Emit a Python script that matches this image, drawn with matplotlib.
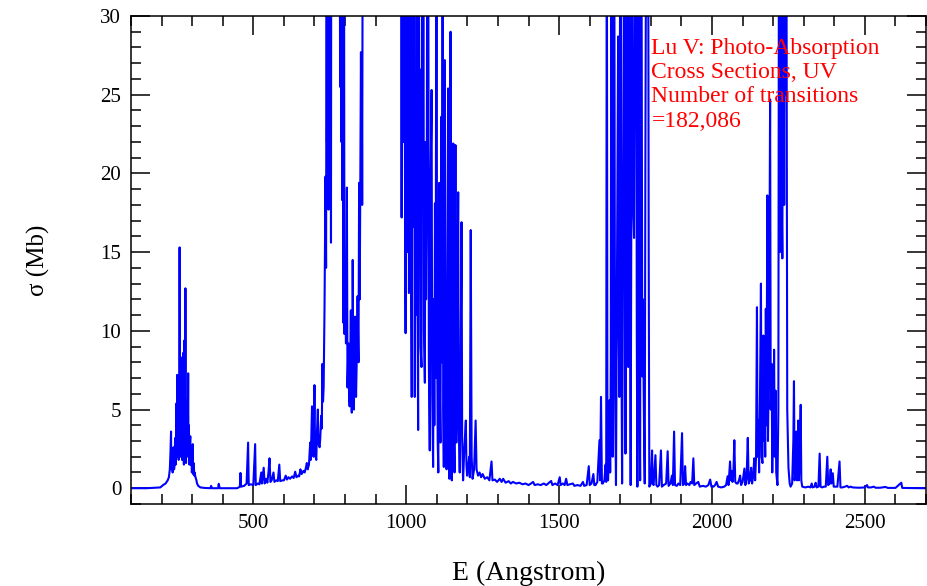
import matplotlib
matplotlib.use("Agg")
import matplotlib.pyplot as plt
from matplotlib.ticker import MultipleLocator

# ---- data (E in Angstrom, sigma in Mb; >30 is off-scale) ----
band_a = [(100,0),(150,0),(196,0.05),(205,0.2),(213,0.3),(220,0.5),(224,0.7),(227,1.2),(229,2.2),
          (231,3.6),(232,1.2),(233,1.5),(234,2.4),(235,2.0),(236,1.0),(238,1.2),(239,2.6),(240,2.2),
          (241,1.2),(243,1.8),(244,3.0),(245,3.2),(246,1.5),(247,2.5),(248,4.5),(249,5.4),(250,2.0),
          (251,7.2),(252,3.0),(253,2.0),(254,5.4),(255,2.5),(256,1.8),(257,6.5),(258,2.2),(259,15.3),
          (260,4.0),(261,2.0),(262,3.7),(263,7.5),(264,6.5),(265,8.3),(266,3.0),(267,1.8),(268,6.0),
          (269,3.0),(270,2.0),(271,8.6),(272,2.5),(273,1.5),(274,6.0),(275,9.4),(276,4.0),(277,3.0),
          (278,12.7),(279,2.5),(280,1.6),(281,5.0),(282,4.5),(283,2.0),(284,5.6),(285,2.2),(286,4.0),
          (287,7.3),(288,2.5),(289,4.0),(290,3.2),(291,1.5),(292,1.8),(293,3.0),(294,3.3),(295,1.5),
          (296,1.5),(297,2.6),(298,2.0),(299,1.0),(300,1.2),(302,2.8),(303,0.9),(304,1.2),(305,1.6),
          (307,0.8),(308,1.0),(311,0.7),(314,0.5),(316,0.3),(320,0.15),(327,0.05),(340,0.02),(360,0.0),
          (362,0.15),(365,0.0),(385,0.0),(387,0.28),(390,0.0),(420,0.0),(447,0.0)]

band_b = [(452,0.05),(456,0.1),(458,0.97),(460,0.1),(470,0.15),(478,0.3),(483,2.9),(485,0.2),
          (492,0.25),(500,0.2),(506,2.8),(508,0.2),(515,0.3),(520,0.25),(526,1.0),(528,0.3),(534,1.3),
          (537,0.3),(542,0.6),(546,0.35),(550,1.1),(553,1.9),(556,0.4),(560,0.5),(566,1.0),(569,0.4),
          (575,0.5),(580,0.45),(585,1.5),(588,0.45),(595,0.5),(600,0.5),(606,0.8),(610,0.55),(615,0.7),
          (620,0.6),(627,0.75),(632,0.65),(637,1.05),(641,0.7),(647,0.8),(650,0.75),(654,1.2),(658,0.9),
          (664,1.1),(668,1.0),(672,1.3),(675,1.6),(678,1.2),(682,1.5),(686,2.9),(688,1.8),(692,5.2),
          (694,2.6),(697,2.0),(700,6.55),(702,2.2),(706,1.8),(708,3.5),(711,5.0),(713,2.8),(717,2.6),
          (719,3.2),(722,4.6),(724,3.8),(726,7.9),(728,5.5),(730,6.4),(733,11.7),(736,19.8),(738,14.0),
          (740,40),(741,22),(742,40),(744,25),(745,40),(746,17.7),(747,40),(748,35),(749,40),(750,22),
          (751,40),(752,28),(753,40),(754,15.6),(755,40),(757,40),(782,40),
          (784,25.5),(785,40),(787,40),(788,22),(789,30),(790,40),(791,18.3),(792,40),(793,40),
          (795,10.5),(796,40),(797,30),(798,9.8),(800,14),
          (803,9.2),(806,19.1),(808,6.4),(811,9.2),(813,6.0),(815,5.2),(817,8.0),(819,11.3),(821,5.5),
          (822,4.8),(824,7.0),(825,14.5),(827,6.0),(829,5.0),(831,8.5),(833,10.9),(835,7.0),(836,5.8),
          (839,9.0),(841,12.2),(843,9.0),(844,8.0),(846,19.4),(848,12.0),(849,15.6),(851,22),(852,27.7),
          (854,20),(855,25.3),(856,18),(858,40),(980,40)]

band_c = [(983,40),(985,17.2),(987,40),(989,30),(991,22),(993,40),(996,20),(998,9.85),(1000,40),
          (1003,28.3),(1005,15),(1007,40),(1009,12.4),(1011,26),(1014,40),(1016,14),(1018,5.8),
          (1020,40),(1023,16.6),(1025,40),(1028,5.8),(1030,20),(1032,11),(1034,40),(1037,12),(1039,3.7),
          (1041,40),(1043,15),(1045,26.6),(1047,9),(1050,7.7),(1052,40),(1054,18),(1056,40),(1058,10),
          (1061,6.7),(1063,22),(1065,12),(1067,17),(1069,40),(1072,40),(1074,8),(1077,2.4),(1080,20),
          (1083,25.3),(1085,6),(1088,1.35),(1090,12),(1092,4),(1094,18.1),(1096,7),(1099,40),(1101,10),
          (1103,3),(1105,1.0),(1108,19.4),(1110,6),(1112,2.9),(1115,23.6),(1117,8),(1119,40),(1121,5),
          (1123,1.35),(1126,27.2),(1129,6),(1132,1.2),(1135,14),(1137,25.4),(1139,4),(1141,0.6),
          (1145,29.0),(1147,5),(1149,0.5),(1151,12),(1154,21.9),(1156,4),(1158,1.0),(1161,21.8),
          (1163,6),(1164,2.9),(1167,10),(1170,18.8),(1172,4),(1175,1.0),(1178,8),(1181,16.9),(1183,3),
          (1186,0.5),(1190,2.5),(1195,4.3),(1197,1.5),(1199,0.8),(1203,1.5),(1206,2.0),(1208,0.7),
          (1211,16.4),(1214,2),(1217,0.6),(1222,1.2),(1227,4.3),(1230,1.2),(1235,0.8),(1240,1.0),
          (1245,0.7),(1250,0.9),(1257,0.6),(1265,0.7),(1272,0.5),(1279,1.7),(1282,0.5),(1290,0.55),
          (1297,0.4),(1306,0.6),(1312,0.4),(1317,0.6),(1325,0.35),(1335,0.45),(1342,0.3),(1349,0.4),
          (1360,0.3),(1370,0.35),(1380,0.25),(1390,0.3),(1400,0.2),(1408,0.3),(1415,0.4),(1420,0.2),
          (1430,0.25),(1440,0.2),(1450,0.3),(1458,0.2),(1467,0.35),(1474,0.46),(1478,0.2),(1487,0.3),
          (1495,0.2),(1502,0.7),(1505,0.2),(1512,0.3),(1518,0.2),(1523,0.6),(1527,0.2),(1535,0.25),
          (1545,0.3),(1550,0.15),(1560,0.2),(1570,0.15),(1578,0.4),(1582,0.15),(1590,0.2),(1597,1.4),
          (1600,0.2),(1606,0.3),(1612,0.9),(1615,0.2),(1619,0.2),(1625,0.4),(1632,3.05),(1634,0.5),
          (1637,5.8),(1640,0.3),(1643,0.3),(1648,0.5),(1652,1.5)]

band_d = [(1654,0.4),(1656,40),(1658,3),(1660,0.5),(1663,2),(1665,5.6),(1667,1),(1669,8),(1671,40),
          (1673,10),(1675,2.0),(1678,20),(1680,40),(1683,6),(1686,0.2),(1689,12),(1693,28.7),(1695,10),
          (1697,5.8),(1700,40),(1703,40),(1704,8),(1706,0.3),(1708,9),(1710,17.4),(1712,25),(1714,40),
          (1716,12),(1717,2.2),(1719,30),(1721,40),(1723,20),(1726,7.7),(1728,35),(1730,40),(1732,12),
          (1734,0.2),(1737,25),(1739,40),(1741,22),(1743,17.3),(1745,15.9),(1747,28),(1750,40),
          (1752,40),(1754,10),(1756,0.1),(1758,40),(1760,40),(1762,8),(1765,0.5),(1767,40),(1769,40),
          (1772,7.1),(1774,12),(1776,7.1),(1778,3),(1780,0.3),(1782,20),(1785,40),(1788,30),(1791,40),
          (1793,15),(1795,0.1),(1800,0.3),(1804,2.4),(1806,0.3),(1809,0.2),(1815,2.1),(1818,0.2),
          (1822,0.1),(1827,0.2),(1833,2.4),(1836,0.1),(1842,0.2),(1850,0.3),(1855,2.35),(1858,0.15),
          (1864,0.3),(1869,0.8),(1872,0.2),(1876,3.6),(1879,0.2),(1885,0.15),(1890,0.3),(1896,0.2),
          (1902,3.5),(1905,0.2),(1910,0.3),(1912,1.4),(1915,0.2),(1920,0.3),(1926,0.2),(1930,0.4),
          (1935,0.3),(1939,1.9),(1942,0.2),(1948,0.3),(1955,0.4),(1960,0.1),(1970,0.15),(1980,0.1),
          (1988,0.2),(1994,0.55),(1998,0.1),(2005,0.1),(2010,0.2),(2015,0.4),(2020,0.1),(2030,0.05),
          (2040,0.1),(2046,0.2),(2051,0.76),(2054,0.2),(2059,1.7),(2062,0.5),(2065,1.1),(2067,0.4),
          (2070,1.0),(2073,3.05),(2076,0.4),(2080,0.3),(2084,0.3),(2088,0.5),(2092,0.8),(2095,0.2),
          (2100,0.4),(2106,1.25),(2109,0.2),(2113,0.6),(2117,3.2),(2120,0.3),(2124,0.5),(2128,1.3),
          (2131,0.3),(2135,0.8),(2138,1.9),(2141,0.5)]

band_e = [(2144,2.0),(2147,11.5),(2149,2.0),(2152,4.3),(2154,1.0),(2157,6),(2160,13.0),(2162,2),
          (2165,1.6),(2168,9.7),(2170,3),(2172,5.0),(2174,2),(2176,11.4),(2178,4),(2181,18.6),(2183,3),
          (2186,8),(2188,15),(2190,24.7),(2192,5),(2195,7.9),(2197,1),(2199,4),(2201,3),(2203,8.8),
          (2205,2),(2208,6.2),(2210,1),(2214,0.2),(2217,5),(2219,40),(2222,15),(2224,40),(2227,20),
          (2230,14.6),(2233,40),(2236,18),(2238,40),(2241,25),(2243,40),(2246,5),(2250,1.3),(2254,0.3),
          (2257,0.1),(2262,0.3),(2266,3),(2268,6.8),(2270,0.5),(2273,1),(2276,3.6),(2278,0.5),(2280,2),
          (2282,4.3),(2284,0.5),(2287,2),(2290,5.3),(2292,0.5),(2295,0.1),(2305,0.05),(2315,0.1),
          (2322,0.05),(2326,0.3),(2329,0.05),(2335,0.1),(2339,0.35),(2342,0.05),(2348,0.1),(2352,2.2),
          (2355,0.1),(2360,0.05),(2366,0.1),(2372,0.1),(2377,2.0),(2380,0.2),(2385,0.3),(2388,1.2),
          (2390,0.3),(2395,0.95),(2398,0.1),(2404,0.1),(2410,0.1),(2417,1.7),(2420,0.05),(2426,0.05),
          (2435,0.1),(2442,0.15),(2447,0.05),(2453,0.1),(2460,0.05),(2480,0.03),(2500,0.05),(2507,0.2),
          (2510,0.05),(2520,0.05),(2529,0.1),(2535,0.03),(2550,0.03),(2567,0.08),(2575,0.02),
          (2600,0.02),(2619,0.35),(2622,0.02),(2650,0.01),(2700,0.0)]

x_ticks = [500, 1000, 1500, 2000, 2500]
y_ticks = [0, 5, 10, 15, 20, 25, 30]
x_label = "E (Angstrom)"
y_label = "σ (Mb)"
note = "Lu V: Photo-Absorption\nCross Sections, UV\nNumber of transitions\n=182,086"

points = band_a + band_b + band_c + band_d + band_e
energy = [p[0] for p in points]
sigma = [p[1] for p in points]

plt.rcParams['font.family'] = ['Liberation Serif', 'DejaVu Serif']

fig = plt.figure(figsize=(9.27, 5.86), dpi=100)
ax = fig.add_axes([0.1413, 0.14, 0.8577, 0.8327])

ax.plot(energy, sigma, color='#0000ff', lw=1.5)

ax.set_xlim(100, 2700)
ax.set_ylim(-1, 30)
ax.set_xticks(x_ticks)
ax.set_yticks(y_ticks)
ax.xaxis.set_minor_locator(MultipleLocator(100))
ax.yaxis.set_minor_locator(MultipleLocator(1))
ax.tick_params(which='both', direction='in', top=True, right=True, width=1.1, colors='black',
               labelsize=15)
ax.tick_params(which='major', length=13.5, pad=7)
ax.tick_params(which='minor', length=7)
for s in ax.spines.values():
    s.set_linewidth(1.1)

ax.set_xlabel(x_label, fontsize=20, labelpad=20)
ax.set_ylabel(y_label, fontsize=18, labelpad=36)

ax.text(1802, 28.6, note, color='#ff0000', fontsize=17, ha='left', va='top', linespacing=1.2)

fig.savefig('out.png', dpi=100)
